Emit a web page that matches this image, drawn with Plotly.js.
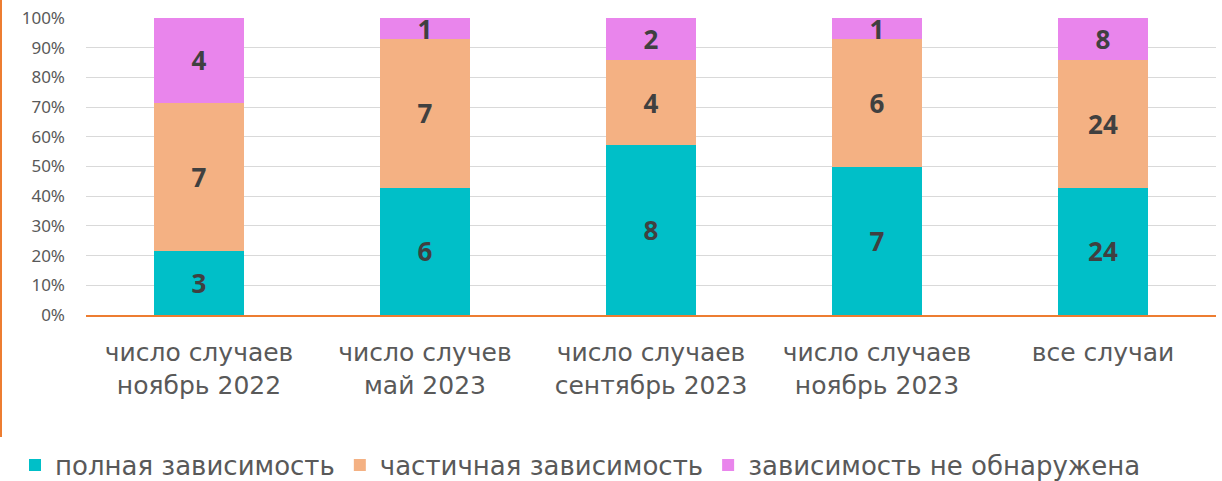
<!DOCTYPE html>
<html><head><meta charset="utf-8">
<script src="https://cdn.plot.ly/plotly-3.0.1.min.js"></script>
<style>html,body{margin:0;padding:0;background:#fff;}#chart{width:1222px;height:481px;}</style>
</head><body><div id="chart"></div>
<script>
const categories = ["число случаев<br>ноябрь 2022", "число случев<br>май 2023", "число случаев<br>сентябрь 2023", "число случаев<br>ноябрь 2023", "все случаи"];
const seriesNames = ["полная зависимость", "частичная зависимость", "зависимость не обнаружена"];
const fullDep = [3, 6, 8, 7, 24];
const partialDep = [7, 7, 4, 6, 24];
const noDep = [4, 1, 2, 1, 8];
const colors = ["#00BFC8", "#F4B183", "#E985EC"];
const FONT = "Noto Sans, sans-serif";
const WIDE = "DejaVu Sans, sans-serif";

const series = [fullDep, partialDep, noDep];
const traces = series.map((vals, i) => ({
  type: "bar", name: seriesNames[i], x: categories, y: vals,
  text: vals.map(String), textposition: "inside", insidetextanchor: "middle",
  textangle: 0, constraintext: "none",
  textfont: {family: FONT, size: 26, color: "#404040", weight: "bold"},
  marker: {color: colors[i], line: {width: 0}},
  hoverinfo: "skip"
}));

const layout = {
  width: 1222, height: 481,
  margin: {l: 86, r: 6, t: 18, b: 166},
  barmode: "stack", barnorm: "percent", bargap: 0.6,
  paper_bgcolor: "#fff", plot_bgcolor: "#fff",
  font: {family: FONT, color: "#595959"},
  uniformtext: {mode: "show", minsize: 26},
  xaxis: {
    showline: true, linecolor: "#ED7D31", linewidth: 2, ticks: "", showgrid: false,
    tickfont: {family: WIDE, size: 25, color: "#595959"}, ticklabelstandoff: 14, zeroline: false
  },
  yaxis: {
    range: [0, 100], dtick: 10, ticksuffix: "%", showgrid: true, gridcolor: "#D9D9D9", gridwidth: 1,
    zeroline: false, showline: false, tickfont: {size: 17, color: "#595959"}, ticklabelstandoff: 20
  },
  showlegend: true,
  legend: {
    orientation: "h", xref: "container", yref: "container", x: 15/1222, y: 16/481,
    xanchor: "left", yanchor: "middle", font: {family: WIDE, size: 26, color: "#595959"},
    traceorder: "normal", itemclick: false, itemdoubleclick: false
  },
  shapes: [{type: "line", xref: "paper", yref: "paper", x0: -85/1130, x1: -85/1130,
    y0: 1 + 18/297, y1: 1 - 437/297 + 18/297, line: {color: "#ED7D31", width: 2}}]
};
Plotly.newPlot("chart", traces, layout, {displayModeBar: false, staticPlot: true});
</script></body></html>
